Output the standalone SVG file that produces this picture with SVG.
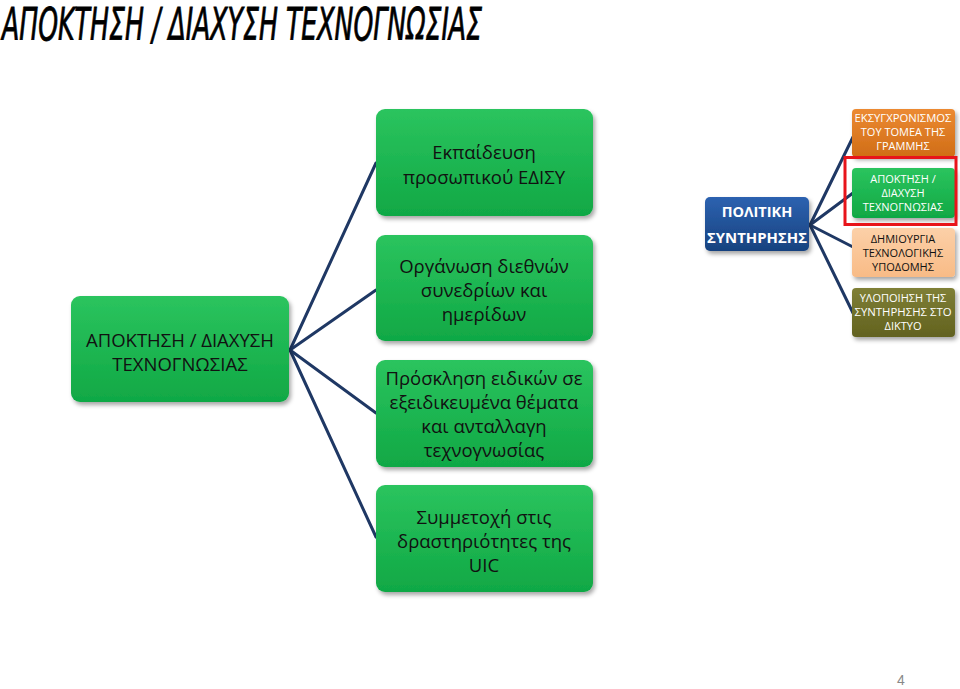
<svg xmlns="http://www.w3.org/2000/svg" width="960" height="689" viewBox="0 0 960 689">
<defs>
<linearGradient id="gGreen" x1="0" y1="0" x2="0" y2="1">
<stop offset="0" stop-color="#2bc45e"/><stop offset="1" stop-color="#10a845"/>
</linearGradient>
<linearGradient id="gBlue" x1="0" y1="0" x2="0" y2="1">
<stop offset="0" stop-color="#2d62b0"/><stop offset="1" stop-color="#17427f"/>
</linearGradient>
<linearGradient id="gOrange" x1="0" y1="0" x2="0" y2="1">
<stop offset="0" stop-color="#ec8a32"/><stop offset="1" stop-color="#d06d17"/>
</linearGradient>
<linearGradient id="gPeach" x1="0" y1="0" x2="0" y2="1">
<stop offset="0" stop-color="#fcd0a8"/><stop offset="1" stop-color="#f8bb86"/>
</linearGradient>
<linearGradient id="gOlive" x1="0" y1="0" x2="0" y2="1">
<stop offset="0" stop-color="#7f7f36"/><stop offset="1" stop-color="#62621f"/>
</linearGradient>
<filter id="sh" x="-10%" y="-10%" width="125%" height="130%">
<feDropShadow dx="2" dy="3" stdDeviation="2" flood-color="#000" flood-opacity="0.35"/>
</filter>
</defs>
<style>
.box{filter:url(#sh);}
.t{font-family:"Open Sans","Noto Sans","Liberation Sans",sans-serif;font-size:18.5px;fill:#111;text-anchor:middle;}
.s{font-family:"Open Sans","Noto Sans","Liberation Sans",sans-serif;font-size:11px;text-anchor:middle;}
.w{fill:#fff;}
.k{fill:#111;}
.conn{stroke:#1f3864;stroke-width:3;fill:none;stroke-linecap:round;}
</style>
<rect width="960" height="689" fill="#fff"/>
<text x="2" y="40" font-family="'DejaVu Sans Condensed','Liberation Sans',sans-serif" font-style="italic" font-size="45" textLength="480" lengthAdjust="spacingAndGlyphs" fill="#000" stroke="#000" stroke-width="0.8">ΑΠΟΚΤΗΣΗ / ΔΙΑΧΥΣΗ ΤΕΧΝΟΓΝΩΣΙΑΣ</text>

<g id="connectors">
<line class="conn" x1="290" y1="350" x2="376" y2="163"/>
<line class="conn" x1="290" y1="350" x2="376" y2="290"/>
<line class="conn" x1="290" y1="350" x2="376" y2="413"/>
<line class="conn" x1="290" y1="350" x2="376" y2="537"/>
<line class="conn" x1="810" y1="225" x2="853" y2="137"/>
<line class="conn" x1="810" y1="225" x2="853" y2="193"/>
<line class="conn" x1="810" y1="225" x2="853" y2="247"/>
<line class="conn" x1="810" y1="225" x2="853" y2="313"/>
</g>

<g id="root">
<rect class="box" x="71" y="296" width="218" height="106" rx="9" fill="url(#gGreen)"/>
<text class="t" x="180" y="347">ΑΠΟΚΤΗΣΗ / ΔΙΑΧΥΣΗ</text>
<text class="t" x="180" y="371">ΤΕΧΝΟΓΝΩΣΙΑΣ</text>
</g>

<g id="n1">
<rect class="box" x="376" y="109" width="217" height="107" rx="9" fill="url(#gGreen)"/>
<text class="t" x="484" y="159">Εκπαίδευση</text>
<text class="t" x="484" y="184">προσωπικού ΕΔΙΣΥ</text>
</g>
<g id="n2">
<rect class="box" x="376" y="235" width="217" height="106" rx="9" fill="url(#gGreen)"/>
<text class="t" x="484" y="273">Οργάνωση διεθνών</text>
<text class="t" x="484" y="297">συνεδρίων και</text>
<text class="t" x="484" y="321">ημερίδων</text>
</g>
<g id="n3">
<rect class="box" x="376" y="360" width="217" height="107" rx="9" fill="url(#gGreen)"/>
<text class="t" x="484" y="385">Πρόσκληση ειδικών σε</text>
<text class="t" x="484" y="409">εξειδικευμένα θέματα</text>
<text class="t" x="484" y="433">και ανταλλαγη</text>
<text class="t" x="484" y="457">τεχνογνωσίας</text>
</g>
<g id="n4">
<rect class="box" x="376" y="485" width="217" height="107" rx="9" fill="url(#gGreen)"/>
<text class="t" x="484" y="524">Συμμετοχή στις</text>
<text class="t" x="484" y="548">δραστηριότητες της</text>
<text class="t" x="484" y="572">UIC</text>
</g>

<g id="policy">
<rect class="box" x="705" y="197" width="104" height="54" rx="5" fill="url(#gBlue)"/>
<text x="757" y="217" font-family="'Open Sans','Liberation Sans',sans-serif" font-weight="bold" font-size="14.5" fill="#fff" text-anchor="middle">ΠΟΛΙΤΙΚΗ</text>
<text x="757" y="243" font-family="'Open Sans','Liberation Sans',sans-serif" font-weight="bold" font-size="14.5" fill="#fff" text-anchor="middle" textLength="100" lengthAdjust="spacingAndGlyphs">ΣΥΝΤΗΡΗΣΗΣ</text>
</g>

<g id="r1">
<rect class="box" x="852" y="109" width="103" height="48" rx="4" fill="url(#gOrange)"/>
<text class="s w" x="903" y="122" textLength="97" lengthAdjust="spacingAndGlyphs">ΕΚΣΥΓΧΡΟΝΙΣΜΟΣ</text>
<text class="s w" x="903" y="136">ΤΟΥ ΤΟΜΕΑ ΤΗΣ</text>
<text class="s w" x="903" y="150">ΓΡΑΜΜΗΣ</text>
</g>
<g id="r2">
<rect class="box" x="852" y="168" width="103" height="50" rx="4" fill="url(#gGreen)"/>
<text class="s w" x="903" y="183">ΑΠΟΚΤΗΣΗ /</text>
<text class="s w" x="903" y="197">ΔΙΑΧΥΣΗ</text>
<text class="s w" x="903" y="211">ΤΕΧΝΟΓΝΩΣΙΑΣ</text>
</g>
<rect id="highlight" x="845" y="157.5" width="111" height="67" fill="none" stroke="#e8141b" stroke-width="3"/>
<g id="r3">
<rect class="box" x="852" y="228" width="103" height="49" rx="4" fill="url(#gPeach)"/>
<text class="s k" x="903" y="243">ΔΗΜΙΟΥΡΓΙΑ</text>
<text class="s k" x="903" y="257">ΤΕΧΝΟΛΟΓΙΚΗΣ</text>
<text class="s k" x="903" y="271">ΥΠΟΔΟΜΗΣ</text>
</g>
<g id="r4">
<rect class="box" x="852" y="288" width="103" height="49" rx="4" fill="url(#gOlive)"/>
<text class="s w" x="903" y="302">ΥΛΟΠΟΙΗΣΗ ΤΗΣ</text>
<text class="s w" x="903" y="316" textLength="97" lengthAdjust="spacingAndGlyphs">ΣΥΝΤΗΡΗΣΗΣ ΣΤΟ</text>
<text class="s w" x="903" y="330">ΔΙΚΤΥΟ</text>
</g>

<text x="901" y="685" font-family="'Liberation Sans',sans-serif" font-size="14" fill="#888" text-anchor="middle">4</text>
</svg>
